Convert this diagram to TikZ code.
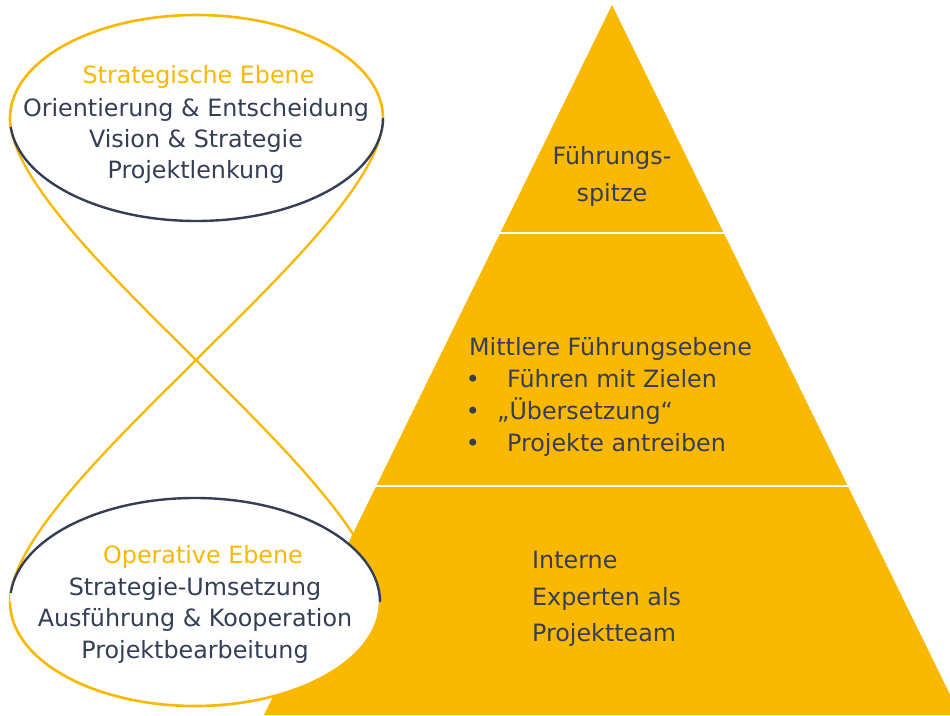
\documentclass[tikz,border=0pt]{standalone}
\usepackage{fontspec}
\setmainfont{DejaVu Sans}
\definecolor{yel}{HTML}{FAB800}
\definecolor{navy}{HTML}{343E56}
\tikzset{
  txt/.style={inner sep=0pt, text=navy, font=\fontsize{23.8}{32}\selectfont},
  ytxt/.style={txt, text=yel},
  curve/.style={draw=yel, line width=2.3pt},
  yarc/.style={draw=yel, line width=2.6pt},
  narc/.style={draw=navy, line width=2.4pt},
  sep/.style={draw=white, line width=2.5pt}
}
\begin{document}
\begin{tikzpicture}[x=1pt,y=1pt]
\useasboundingbox (0,0) rectangle (950,715);
\fill[white] (0,0) rectangle (950,715);
% crossing curves
\coordinate (tl) at (10,597);
\coordinate (tr) at (383,597);
\coordinate (bl) at (10,113);
\coordinate (br) at (380,113);
\coordinate (cx) at (196,355);
\draw[curve] (tl) .. controls (10,535) and (118,433) .. (cx) .. controls (274,277) and (380,175) .. (br);
\draw[curve] (tr) .. controls (383,535) and (274,433) .. (cx) .. controls (118,277) and (10,175) .. (bl);
% top ellipse
\fill[white] (196.5,597) ellipse[x radius=186.5pt, y radius=103pt];
\draw[yarc] (tr) arc[start angle=0, end angle=185, x radius=186.5pt, y radius=103pt];
\draw[narc] ([shift={(185:186.5pt and 103pt)}]196.5,597) arc[start angle=185, end angle=360, x radius=186.5pt, y radius=103pt];
% pyramid
\begin{scope}
\clip (0,0) rectangle (950,715);
\fill[yel] (612,710) -- (960,0) -- (264,0) -- cycle;
\end{scope}
\coordinate (s1l) at (498,482);
\coordinate (s1r) at (726,482);
\coordinate (s2l) at (374,229);
\coordinate (s2r) at (850,229);
\draw[sep] (s1l) -- (s1r);
\draw[sep] (s2l) -- (s2r);
% bottom ellipse
\fill[white] (195,113) ellipse[x radius=185pt, y radius=104pt];
\draw[yarc] (bl) arc[start angle=180, end angle=360, x radius=185pt, y radius=104pt];
\draw[narc] ([shift={(175:185pt and 104pt)}]195,113) arc[start angle=175, end angle=0, x radius=185pt, y radius=104pt];
% top ellipse texts
\node[ytxt, anchor=base] (t0) at (198.5,631.5) {Strategische Ebene};
\node[txt, anchor=base] (t1) at (196,598.5) {Orientierung \& Entscheidung};
\node[txt, anchor=base] (t2) at (196,567.5) {Vision \& Strategie};
\node[txt, anchor=base] (t3) at (196,536.5) {Projektlenkung};
% bottom ellipse texts
\node[ytxt, anchor=base] (b0) at (203,151.7) {Operative Ebene};
\node[txt, anchor=base] (b1) at (195,120) {Strategie-Umsetzung};
\node[txt, anchor=base] (b2) at (195,88.3) {Ausführung \& Kooperation};
\node[txt, anchor=base] (b3) at (195,56.7) {Projektbearbeitung};
% pyramid texts
\node[txt, anchor=base] (p1) at (612,550) {Führungs-};
\node[txt, anchor=base] (p2) at (612,513.3) {spitze};
\node[txt, anchor=base west] (m0) at (469,359.3) {Mittlere Führungsebene};
\node[txt, anchor=base] (mb1) at (473,327.3) {•};
\node[txt, anchor=base west] (m1) at (507,327.3) {Führen mit Zielen};
\node[txt, anchor=base] (mb2) at (473,295) {•};
\node[txt, anchor=base west] (m2) at (497,295) {„Übersetzung“};
\node[txt, anchor=base] (mb3) at (473,263.3) {•};
\node[txt, anchor=base west] (m3) at (507,263.3) {Projekte antreiben};
\node[txt, anchor=base west] (i1) at (532,146.7) {Interne};
\node[txt, anchor=base west] (i2) at (532,110) {Experten als};
\node[txt, anchor=base west] (i3) at (532,73.3) {Projektteam};
\end{tikzpicture}
\end{document}
